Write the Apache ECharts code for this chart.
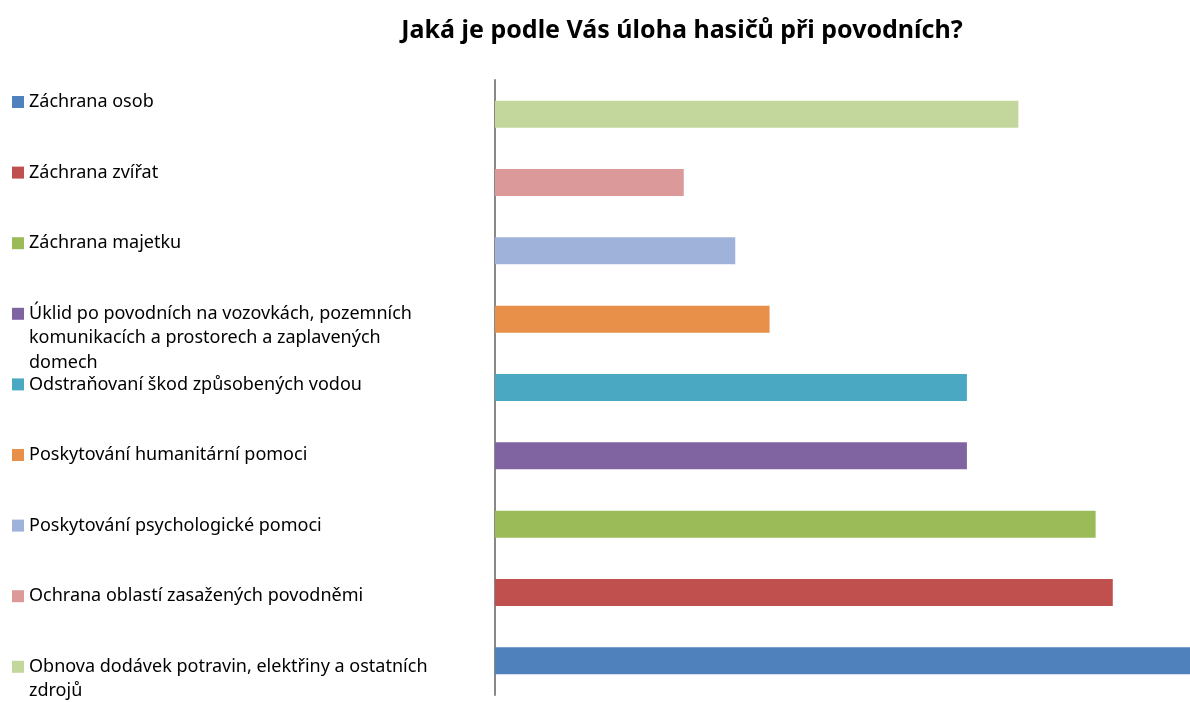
<!DOCTYPE html>
<html>
<head>
<meta charset="utf-8">
<script src="https://cdn.jsdelivr.net/npm/echarts@6/dist/echarts.min.js"></script>
<style>
html,body{margin:0;padding:0;background:#fff;}
#chart{width:1190px;height:702px;}
</style>
</head>
<body>
<div id="chart"></div>
<script>
// Data (legend order: first series = bottom bar)
const titleText = 'Jaká je podle Vás úloha hasičů při povodních?';
const seriesNames = [
  'Záchrana osob',
  'Záchrana zvířat',
  'Záchrana majetku',
  'Úklid po povodních na vozovkách, pozemních komunikacích a prostorech a zaplavených domech',
  'Odstraňovaní škod způsobených vodou',
  'Poskytování humanitární pomoci',
  'Poskytování psychologické pomoci',
  'Ochrana oblastí zasažených povodněmi',
  'Obnova dodávek potravin, elektřiny a ostatních zdrojů'
];
const legendLabels = [
  'Záchrana osob',
  'Záchrana zvířat',
  'Záchrana majetku',
  'Úklid po povodních na vozovkách, pozemních\nkomunikacích a prostorech a zaplavených\ndomech',
  'Odstraňovaní škod způsobených vodou',
  'Poskytování humanitární pomoci',
  'Poskytování psychologické pomoci',
  'Ochrana oblastí zasažených povodněmi',
  'Obnova dodávek potravin, elektřiny a ostatních\nzdrojů'
];
const values = [81, 72, 70, 55, 55, 32, 28, 22, 61];
const colors = ['#4f81bd', '#c0504d', '#9bbb59', '#8064a2', '#4aa8c2', '#e8904a', '#9fb3da', '#db9a99', '#c3d69b'];

const chart = echarts.init(document.getElementById('chart'));
const FONT = '"Noto Sans", sans-serif';
const LH = 24.5;

const series = seriesNames.map((name, i) => ({
  name: name,
  type: 'bar',
  stack: 'all',
  barWidth: 27,
  itemStyle: { color: colors[i] },
  data: values.map((v, j) => (j === i ? v : null)),
  emphasis: { disabled: true }
}));

const legends = seriesNames.map((name, i) => {
  const lines = legendLabels[i].split('\n').length;
  // prepend empty lines so the first text line sits level with the icon
  const label = '\n'.repeat(lines - 1) + legendLabels[i];
  const H = (2 * lines - 1) * LH;
  const center = 102 + i * 70.6;
  return {
    orient: 'vertical',
    left: 12,
    top: center - H / 2,
    padding: 0,
    itemWidth: 12,
    itemHeight: 12,
    itemGap: 0,
    icon: 'rect',
    selectedMode: false,
    data: [{ name: name, itemStyle: { color: colors[i] } }],
    formatter: () => label,
    textStyle: {
      fontFamily: FONT,
      fontSize: 18,
      color: '#000',
      lineHeight: LH
    }
  };
});

chart.setOption({
  animation: false,
  title: {
    text: titleText,
    left: 677,
    top: 13,
    textAlign: 'center',
    textStyle: { fontFamily: FONT, fontSize: 25, fontWeight: 'bold', color: '#000' }
  },
  legend: legends,
  grid: { left: 495, right: 0, top: 80, bottom: 7, containLabel: false },
  xAxis: {
    type: 'value',
    min: 0,
    max: 81,
    show: false
  },
  yAxis: {
    type: 'category',
    data: seriesNames,
    axisLine: { show: true, lineStyle: { color: '#888', width: 2 } },
    axisTick: { show: false },
    axisLabel: { show: false },
    splitLine: { show: false }
  },
  series: series
});
</script>
</body>
</html>
